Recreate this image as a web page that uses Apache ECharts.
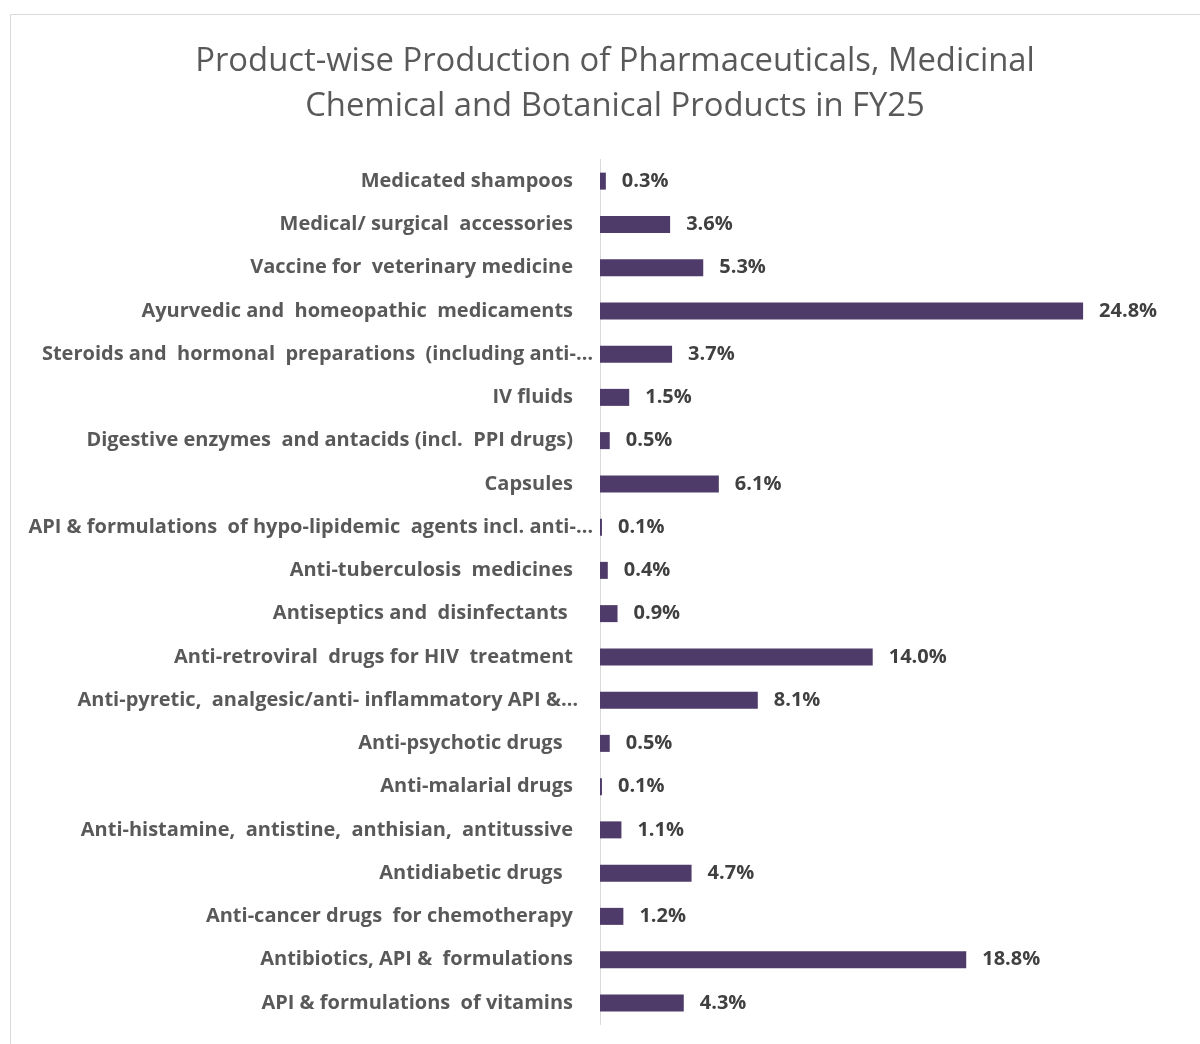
<!DOCTYPE html>
<html>
<head>
<meta charset="utf-8">
<style>
    html, body { margin: 0; padding: 0; background: #fff; }
    #chart { width: 1200px; height: 1044px; }
</style>
</head>
<body>
<div id="chart"></div>
<script src="https://cdn.jsdelivr.net/npm/echarts@6/dist/echarts.min.js"></script>
<script>
    // categories listed top to bottom as in the picture
    var categories = [
        'Medicated shampoos',
        'Medical/ surgical  accessories',
        'Vaccine for  veterinary medicine',
        'Ayurvedic and  homeopathic  medicaments',
        'Steroids and  hormonal  preparations  (including anti-\u2026',
        'IV fluids',
        'Digestive enzymes  and antacids (incl.  PPI drugs)',
        'Capsules',
        'API & formulations  of hypo-lipidemic  agents incl. anti-\u2026',
        'Anti-tuberculosis  medicines',
        'Antiseptics and  disinfectants ',
        'Anti-retroviral  drugs for HIV  treatment',
        'Anti-pyretic,  analgesic/anti- inflammatory API &\u2026',
        'Anti-psychotic drugs  ',
        'Anti-malarial drugs',
        'Anti-histamine,  antistine,  anthisian,  antitussive',
        'Antidiabetic drugs  ',
        'Anti-cancer drugs  for chemotherapy',
        'Antibiotics, API &  formulations',
        'API & formulations  of vitamins'
    ];
    var shares = [0.3, 3.6, 5.3, 24.8, 3.7, 1.5, 0.5, 6.1, 0.1, 0.4, 0.9, 14.0, 8.1, 0.5, 0.1, 1.1, 4.7, 1.2, 18.8, 4.3];

    // truncated labels run right up to the axis line
    var catItems = categories.map(function (c) {
        if (c.indexOf('\u2026') < 0) return c;
        var shift = c.indexOf('API &\u2026') >= 0 ? -5 : -20;
        return { value: c, textStyle: { padding: [0, shift, 0, 0] } };
    });

    var myChart = echarts.init(document.getElementById('chart'));
    var option = {
        backgroundColor: '#fff',
        title: {
            text: 'Product-wise Production of Pharmaceuticals, Medicinal\nChemical and Botanical Products in FY25',
            left: 610,
            top: 34,
            textAlign: 'center',
            textStyle: {
                fontFamily: 'Open Sans',
                fontSize: 32.8,
                fontWeight: 'normal',
                color: '#595959',
                lineHeight: 45
            }
        },
        graphic: [{
            type: 'rect',
            shape: { x: 10.5, y: 14.5, width: 1300, height: 1100 },
            style: { fill: 'none', stroke: '#d9d9d9', lineWidth: 1 },
            silent: true
        }],
        grid: {
            left: 600,
            right: 113,
            top: 159.5,
            bottom: 19.5,
            containLabel: false
        },
        xAxis: {
            type: 'value',
            min: 0,
            max: 25,
            show: false
        },
        yAxis: {
            type: 'category',
            inverse: true,
            data: catItems,
            axisLine: { show: true, lineStyle: { color: '#d9d9d9', width: 1 } },
            axisTick: { show: false },
            axisLabel: {
                margin: 27,
                fontFamily: 'Open Sans',
                fontSize: 20,
                fontWeight: 'bold',
                color: '#595959'
            }
        },
        series: [{
            type: 'bar',
            data: shares,
            barWidth: 17,
            itemStyle: { color: '#4e3b69' },
            label: {
                show: true,
                position: 'right',
                distance: 16,
                formatter: function (p) { return p.value.toFixed(1) + '%'; },
                fontFamily: 'Open Sans',
                fontSize: 20,
                fontWeight: 'bold',
                color: '#404040'
            },
            animation: false
        }],
        animation: false
    };
    myChart.setOption(option);
</script>
</body>
</html>
